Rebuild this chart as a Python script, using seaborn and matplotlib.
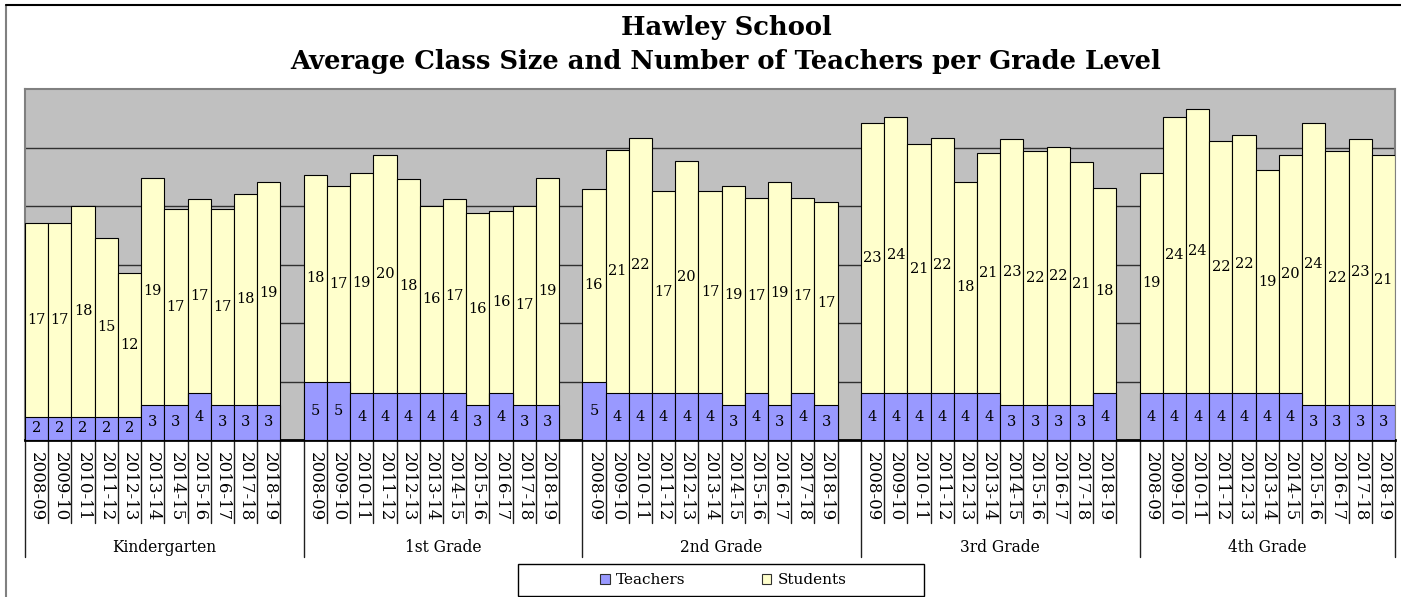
import matplotlib
matplotlib.use("Agg")
import matplotlib.pyplot as plt
import matplotlib.transforms as mtransforms
from matplotlib.patches import Patch, Rectangle
from matplotlib.lines import Line2D
import seaborn as sns
import pandas as pd

# ---------------- data ----------------
grades = ["Kindergarten", "1st Grade", "2nd Grade", "3rd Grade", "4th Grade"]
years = ["2008-09", "2009-10", "2010-11", "2011-12", "2012-13", "2013-14",
         "2014-15", "2015-16", "2016-17", "2017-18", "2018-19"]

teachers_k = [2, 2, 2, 2, 2, 3, 3, 4, 3, 3, 3]
teachers_1 = [5, 5, 4, 4, 4, 4, 4, 3, 4, 3, 3]
teachers_2 = [5, 4, 4, 4, 4, 4, 3, 4, 3, 4, 3]
teachers_3 = [4, 4, 4, 4, 4, 4, 3, 3, 3, 3, 4]
teachers_4 = [4, 4, 4, 4, 4, 4, 4, 3, 3, 3, 3]

students_k = [16.56, 16.56, 18.04, 15.24, 12.28, 19.41, 16.73, 16.58, 16.73, 18.04, 19.07]
students_1 = [17.64, 16.70, 18.78, 20.35, 18.35, 16.04, 16.58, 16.38, 15.53, 17.04, 19.41]
students_2 = [16.45, 20.81, 21.83, 17.27, 19.84, 17.27, 18.75, 16.70, 19.07, 16.70, 17.35]
students_3 = [23.09, 23.57, 21.29, 21.83, 18.07, 20.52, 22.69, 21.72, 22.03, 20.75, 17.55]
students_4 = [18.78, 23.57, 24.29, 21.58, 22.09, 19.07, 20.32, 24.09, 21.72, 22.69, 21.38]

teachers = [teachers_k, teachers_1, teachers_2, teachers_3, teachers_4]
students = [students_k, students_1, students_2, students_3, students_4]

# colours
C_TEACH = "#9999FF"
C_STUD = "#FFFFCC"
C_BG = "#C0C0C0"

FONT = ["DejaVu Serif"]

# ---------------- build table ----------------
rows = []
order = []
tick_labels = []
for gi, g in enumerate(grades):
    for yi, y in enumerate(years):
        slot = f"{g}|{y}"
        order.append(slot)
        tick_labels.append(y)
        t = teachers[gi][yi]
        s = students[gi][yi]
        rows.append({"slot": slot, "grade": g, "year": y,
                     "teachers": t, "students": s, "total": t + s})
    if gi < len(grades) - 1:
        order.append(f"gap{gi}")
        tick_labels.append("")
df = pd.DataFrame(rows)

# ---------------- plot ----------------
sns.set_theme(style="white")
plt.rcParams["font.family"] = FONT
plt.rcParams["text.color"] = "black"
plt.rcParams["xtick.color"] = "black"
plt.rcParams["ytick.color"] = "black"
plt.rcParams["legend.labelcolor"] = "black"

W, H = 1401, 597
fig = plt.figure(figsize=(W / 100, H / 100), dpi=100)
ax = fig.add_axes([25 / W, 1 - 440 / H, 1370 / W, 351 / H])
ax.set_facecolor(C_BG)

sns.barplot(data=df, x="slot", y="total", order=order, color=C_STUD,
            saturation=1, width=1.0, edgecolor="black", linewidth=0.8,
            errorbar=None, ax=ax, zorder=3)
sns.barplot(data=df, x="slot", y="teachers", order=order, color=C_TEACH,
            saturation=1, width=1.0, edgecolor="black", linewidth=0.8,
            errorbar=None, ax=ax, zorder=4)

ax.set_ylim(0, 30)
ax.set_xlim(-0.5, len(order) - 0.5)
ax.set_yticks([5, 10, 15, 20, 25])
ax.set_yticklabels([])
ax.tick_params(axis="y", length=0)
ax.yaxis.grid(True, color="#303030", linewidth=1.0, zorder=0)
ax.set_axisbelow(True)
ax.set_xlabel("")
ax.set_ylabel("")

ax.set_xticks(range(len(order)))
ax.set_xticklabels(tick_labels, rotation=270, fontsize=12, va="top",
                   ha="center", family=FONT, color="black")
ax.tick_params(axis="x", length=0, pad=9)

for sp in ["top", "left", "right"]:
    ax.spines[sp].set_color("#808080")
    ax.spines[sp].set_linewidth(1.5)
ax.spines["bottom"].set_color("black")
ax.spines["bottom"].set_linewidth(2.0)

# value labels
pos = {s: i for i, s in enumerate(order)}
for r in rows:
    x = pos[r["slot"]]
    ax.text(x, r["teachers"] / 2, f"{r['teachers']:.0f}", ha="center",
            va="center", fontsize=10.5, color="black", zorder=6, family=FONT)
    ax.text(x, r["teachers"] + r["students"] / 2, f"{r['students']:.0f}",
            ha="center", va="center", fontsize=10.5, color="black", zorder=6,
            family=FONT)

# category separators below the axis
trans = mtransforms.blended_transform_factory(ax.transData, ax.transAxes)
short_y = -(523 - 440) / 351
long_y = -(557 - 440) / 351
n = len(order)
group_edges = []
for gi in range(len(grades)):
    start = 12 * gi
    group_edges.append(start - 0.5)
    for k in range(1, 12):
        xe = start + k - 0.5
        if xe < n - 0.5:
            ax.add_line(Line2D([xe, xe], [0, short_y], transform=trans,
                               color="#202020", linewidth=1.0, clip_on=False))
group_edges.append(n - 0.5)
for xe in group_edges:
    ax.add_line(Line2D([xe, xe], [0, long_y], transform=trans,
                       color="#202020", linewidth=1.0, clip_on=False))

# group labels
label_y = -(547 - 440) / 351
for gi, g in enumerate(grades):
    lo = group_edges[gi]
    hi = group_edges[gi + 1]
    ax.text((lo + hi) / 2, label_y, g, transform=trans, ha="center",
            va="center", fontsize=11.2, family=FONT, color="black")

# titles
fig.text(726 / W, 1 - 27 / H, "Hawley School", ha="center", va="center",
         fontsize=18.6, fontweight="bold", family=FONT, color="black")
fig.text(726 / W, 1 - 62 / H,
         "Average Class Size and Number of Teachers per Grade Level",
         ha="center", va="center", fontsize=18.6, fontweight="bold",
         family=FONT, color="black")

# legend frame + legend
fig.add_artist(Rectangle((518 / W, 1 - 596 / H), 406 / W, 32 / H,
                         transform=fig.transFigure, facecolor="white",
                         edgecolor="black", linewidth=1.0))
handles = [Patch(facecolor=C_TEACH, edgecolor="#303030", linewidth=0.8),
           Patch(facecolor=C_STUD, edgecolor="#303030", linewidth=0.8)]
fig.legend(handles, ["Teachers", "Students"], loc="center",
           bbox_to_anchor=(723 / W, 1 - 580 / H), ncol=2, frameon=False,
           prop={"family": FONT, "size": 11}, handlelength=0.65,
           handleheight=0.65, handletextpad=0.4, columnspacing=5.0,
           labelcolor="black")

# outer frame
fig.add_artist(Line2D([6 / W, 6 / W], [0, 1 - 5 / H],
                      transform=fig.transFigure, color="#808080", linewidth=1.5))
fig.add_artist(Line2D([6 / W, 1], [1 - 5 / H, 1 - 5 / H],
                      transform=fig.transFigure, color="black", linewidth=1.5))

fig.savefig("out.png", dpi=100)
